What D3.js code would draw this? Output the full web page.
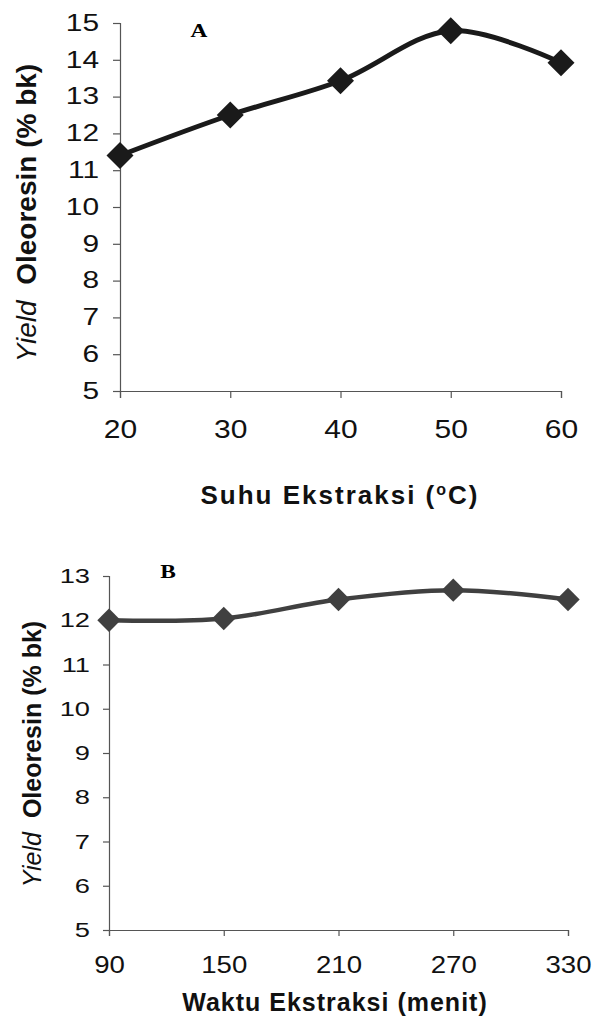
<!DOCTYPE html>
<html>
<head>
<meta charset="utf-8">
<script src="https://cdn.jsdelivr.net/npm/d3@7"></script>
<style>
  body { margin: 0; background: #fff; }
  svg { display: block; }
</style>
</head>
<body>
<div id="chart"></div>
<script>
// data
var suhu = [20, 30, 40, 50, 60];
var yieldSuhu = [11.4, 12.5, 13.43, 14.79, 13.92];
var waktu = [90, 150, 210, 270, 330];
var yieldWaktu = [12.0, 12.04, 12.47, 12.68, 12.47];

var suhuTicks = [20, 30, 40, 50, 60];
var waktuTicks = [90, 150, 210, 270, 330];
var yTicksA = [5, 6, 7, 8, 9, 10, 11, 12, 13, 14, 15];
var yTicksB = [5, 6, 7, 8, 9, 10, 11, 12, 13];

var svg = d3.select("#chart").append("svg")
  .attr("width", 597)
  .attr("height", 1026);

var font = "'Liberation Sans', Arial, sans-serif";

function drawPanel(p) {
  var g = svg.append("g");

  var x = d3.scaleLinear().domain(p.xDomain).range([p.left, p.right]);
  var y = d3.scaleLinear().domain(p.yDomain).range([p.bottom, p.top]);

  // y axis
  var yAxis = g.append("g")
    .attr("transform", "translate(" + p.left + ",0)")
    .call(d3.axisLeft(y).tickValues(p.yTicks).tickSize(p.tick).tickPadding(p.pad).tickFormat(d3.format("d")));
  // x axis
  var xAxis = g.append("g")
    .attr("transform", "translate(0," + p.bottom + ")")
    .call(d3.axisBottom(x).tickValues(p.xTicks).tickSize(p.tick).tickPadding(p.xpad).tickFormat(d3.format("d")));

  [yAxis, xAxis].forEach(function (a) {
    a.select(".domain").attr("stroke", "#555").attr("stroke-width", 1.2);
    a.selectAll(".tick line").attr("stroke", "#555").attr("stroke-width", 1.2);
    a.selectAll(".tick text")
      .attr("fill", "#111")
      .style("font-family", font);
  });
  // the original glyphs are stretched sideways
  yAxis.selectAll(".tick text")
    .style("font-size", p.yTickFont + "px")
    .attr("x", -(p.tick + p.pad) / p.ySx)
    .attr("transform", "scale(" + p.ySx + ",1)");
  xAxis.selectAll(".tick text")
    .style("font-size", p.xTickFont + "px")
    .attr("transform", "scale(" + p.xSx + ",1)");

  // line
  var pts = p.xs.map(function (d, i) { return [d, p.ys[i]]; });
  var line = d3.line()
    .x(function (d) { return x(d[0]); })
    .y(function (d) { return y(d[1]); })
    .curve(d3.curveCatmullRom.alpha(0.5));

  g.append("path")
    .datum(pts)
    .attr("d", line)
    .attr("fill", "none")
    .attr("stroke", p.color)
    .attr("stroke-width", p.lineWidth)
    .attr("stroke-linejoin", "round");

  // diamond markers
  g.selectAll(".mk").data(pts).enter().append("path")
    .attr("class", "mk")
    .attr("transform", function (d) { return "translate(" + x(d[0]) + "," + y(d[1]) + ")"; })
    .attr("d", "M0," + (-p.mk) + "L" + p.mk + ",0L0," + p.mk + "L" + (-p.mk) + ",0Z")
    .attr("fill", p.color);

  // panel letter
  g.append("text")
    .attr("transform", "translate(" + p.letterX + "," + p.letterY + ") scale(1.3,1)")
    .attr("text-anchor", "middle")
    .style("font-family", "'Liberation Serif', 'Times New Roman', serif")
    .style("font-weight", "bold")
    .style("font-size", "18px")
    .text(p.letter);

  // x title
  var xt = g.append("text")
    .attr("x", p.xTitleX)
    .attr("y", p.xTitleY)
    .attr("text-anchor", "middle")
    .style("font-family", font)
    .style("font-weight", "bold")
    .style("font-size", p.xTitleFont + "px")
    .style("letter-spacing", p.spacing + "px")
    .attr("fill", "#111");
  p.xTitle(xt);

  // y title
  var yt = g.append("text")
    .attr("transform", "translate(" + p.yTitleX + "," + p.yTitleY + ") rotate(-90)")
    .attr("text-anchor", "middle")
    .style("font-family", font)
    .style("font-size", p.yTitleFont + "px")
    .attr("fill", "#111");
  yt.append("tspan").style("font-style", "italic").text("Yield");
  yt.append("tspan").style("font-weight", "bold").text("\u00a0 Oleoresin (% bk)");
}

drawPanel({
  xDomain: [20, 60], yDomain: [5, 15],
  left: 120, right: 561, top: 23, bottom: 391,
  xs: suhu, ys: yieldSuhu,
  xTicks: suhuTicks, yTicks: yTicksA,
  tick: 7, pad: 14, xpad: 22,
  yTickFont: 23, ySx: 1.3, xTickFont: 25, xSx: 1.2,
  color: "#1a1a1a", lineWidth: 5, mk: 13.5,
  letter: "A", letterX: 199, letterY: 37,
  xTitleX: 340, xTitleY: 504, xTitleFont: 26, spacing: 2,
  yTitleX: 36, yTitleY: 213, yTitleFont: 28,
  xTitle: function (t) {
    t.append("tspan").text("Suhu Ekstraksi (");
    t.append("tspan").attr("dy", -9).style("font-size", "16px").text("o");
    t.append("tspan").attr("dy", 9).text("C)");
  }
});

drawPanel({
  xDomain: [90, 330], yDomain: [5, 13],
  left: 109, right: 568, top: 576, bottom: 930,
  xs: waktu, ys: yieldWaktu,
  xTicks: waktuTicks, yTicks: yTicksB,
  tick: 6, pad: 13, xpad: 21,
  yTickFont: 21, ySx: 1.3, xTickFont: 23, xSx: 1.2,
  color: "#404040", lineWidth: 4.5, mk: 11.7,
  letter: "B", letterX: 168, letterY: 578,
  xTitleX: 335, xTitleY: 1011, xTitleFont: 25, spacing: 1,
  yTitleX: 41, yTitleY: 754, yTitleFont: 25,
  xTitle: function (t) {
    t.text("Waktu Ekstraksi (menit)");
  }
});
</script>
</body>
</html>
